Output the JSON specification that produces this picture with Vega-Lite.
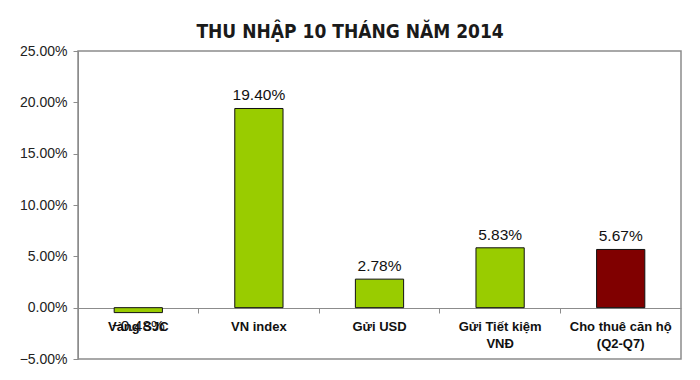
{
  "$schema": "https://vega.github.io/schema/vega-lite/v6.json",
  "autosize": {"type": "none"},
  "width": 603,
  "height": 308,
  "padding": {"left": 78, "top": 51, "right": 19, "bottom": 21},
  "background": "white",
  "title": {
    "text": "THU NHẬP 10 THÁNG NĂM 2014",
    "font": "Liberation Sans Narrow, DejaVu Sans Condensed, sans-serif",
    "fontSize": 19,
    "fontWeight": "bold",
    "color": "#1a1a1a",
    "frame": "bounds",
    "anchor": "middle",
    "offset": 2
  },
  "config": {
    "view": {"stroke": "#8c8c8c", "strokeWidth": 1.5},
    "font": "Liberation Sans, Arial, sans-serif"
  },
  "data": {
    "values": [
      {"name": "Vàng SJC", "v": -0.0048},
      {"name": "VN index", "v": 0.194},
      {"name": "Gửi USD", "v": 0.0278},
      {"name": "Gửi Tiết kiệm\nVNĐ", "v": 0.0583},
      {"name": "Cho thuê căn hộ\n(Q2-Q7)", "v": 0.0567}
    ]
  },
  "encoding": {
    "x": {
      "field": "name",
      "type": "nominal",
      "sort": null,
      "scale": {"paddingInner": 0, "paddingOuter": 0},
      "axis": {
        "title": null,
        "labels": false,
        "bandPosition": 0,
        "offset": -51,
        "domainColor": "#8c8c8c",
        "tickColor": "#8c8c8c",
        "tickSize": 5,
        "grid": false
      }
    }
  },
  "layer": [
    {
      "mark": {"type": "bar", "width": {"band": 0.4}, "stroke": "#111111", "strokeWidth": 1},
      "encoding": {
        "y": {
          "field": "v",
          "type": "quantitative",
          "scale": {"domain": [-0.05, 0.25], "nice": false, "zero": false},
          "axis": {
            "title": null,
            "format": ".2%",
            "values": [-0.05, 0, 0.05, 0.1, 0.15, 0.2, 0.25],
            "grid": false,
            "domainColor": "#8c8c8c",
            "tickColor": "#8c8c8c",
            "tickSize": 5,
            "labelPadding": 6,
            "labelFontSize": 14,
            "labelColor": "#222222",
            "labelFont": "Liberation Sans, Arial, sans-serif"
          }
        },
        "color": {
          "condition": {"test": "indexof(datum.name, 'Cho thuê') >= 0", "value": "#800000"},
          "value": "#99cc00"
        }
      }
    },
    {
      "transform": [{"filter": "datum.v >= 0"}],
      "mark": {"type": "text", "baseline": "bottom", "dy": -5, "fontSize": 15.5, "color": "#111111"},
      "encoding": {
        "y": {"field": "v", "type": "quantitative"},
        "text": {"field": "v", "type": "quantitative", "format": ".2%"}
      }
    },
    {
      "transform": [{"filter": "datum.v < 0"}],
      "mark": {"type": "text", "baseline": "top", "dy": 6, "fontSize": 15.5, "color": "#111111"},
      "encoding": {
        "y": {"field": "v", "type": "quantitative"},
        "text": {"field": "v", "type": "quantitative", "format": ".2%"}
      }
    },
    {
      "mark": {"type": "text", "baseline": "top", "dy": 13, "fontSize": 13, "fontWeight": "bold", "lineBreak": "\n", "lineHeight": 17, "color": "#111111"},
      "encoding": {
        "y": {"datum": 0, "type": "quantitative"},
        "text": {"field": "name", "type": "nominal"}
      }
    }
  ]
}
